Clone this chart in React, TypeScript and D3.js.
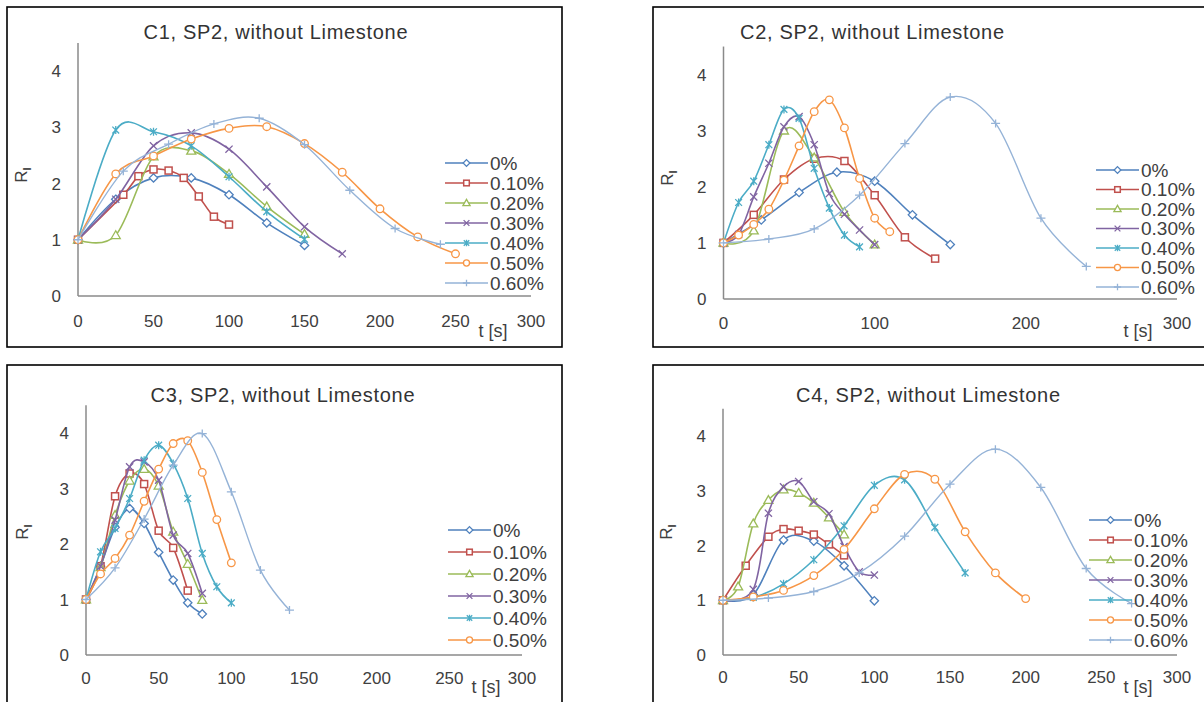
import React from "react";
import * as d3 from "d3";

type Pt = [number, number];

const SERIES = ["0%", "0.10%", "0.20%", "0.30%", "0.40%", "0.50%", "0.60%"];
const COLORS = ["#4F81BD", "#C0504D", "#9BBB59", "#8064A2", "#4BACC6", "#F79646", "#95B3D7"];
const MARKERS = ["diamond", "square", "triangle", "x", "star", "circle", "plus"];
const Y_TICKS = [0, 1, 2, 3, 4];
const X_TICKS_50 = [0, 50, 100, 150, 200, 250, 300];
const X_TICKS_100 = [0, 100, 200, 300];
const TITLES = [
  "C1, SP2, without Limestone",
  "C2, SP2, without Limestone",
  "C3, SP2, without Limestone",
  "C4, SP2, without Limestone",
];

// C1
const C1_0: Pt[] = [[0, 1], [25, 1.72], [50, 2.1], [75, 2.1], [100, 1.8], [125, 1.3], [150, 0.9]];
const C1_1: Pt[] = [[0, 1], [30, 1.8], [40, 2.13], [50, 2.25], [60, 2.23], [70, 2.1], [80, 1.77], [90, 1.41], [100, 1.27]];
const C1_2: Pt[] = [[0, 1], [25, 1.08], [50, 2.48], [75, 2.58], [100, 2.17], [125, 1.59], [150, 1.1]];
const C1_3: Pt[] = [[0, 1], [25, 1.72], [50, 2.67], [75, 2.9], [100, 2.61], [125, 1.94], [150, 1.23], [175, 0.75]];
const C1_4: Pt[] = [[0, 1], [25, 2.95], [50, 2.92], [75, 2.67], [100, 2.12], [125, 1.5], [150, 1.01]];
const C1_5: Pt[] = [[0, 1], [25, 2.17], [50, 2.49], [75, 2.79], [100, 2.98], [125, 3.01], [150, 2.71], [175, 2.2], [200, 1.55], [225, 1.05], [250, 0.75]];
const C1_6: Pt[] = [[0, 1], [30, 2.22], [60, 2.7], [90, 3.06], [120, 3.16], [150, 2.69], [180, 1.88], [210, 1.2], [240, 0.92]];

// C2
const C2_0: Pt[] = [[0, 1], [25, 1.41], [50, 1.9], [75, 2.26], [100, 2.1], [125, 1.5], [150, 0.97]];
const C2_1: Pt[] = [[0, 1], [20, 1.5], [40, 2.13], [60, 2.5], [80, 2.46], [100, 1.85], [120, 1.1], [140, 0.72]];
const C2_2: Pt[] = [[0, 1], [20, 1.22], [40, 3.0], [60, 2.52], [80, 1.55], [100, 0.97]];
const C2_3: Pt[] = [[0, 1], [10, 1.15], [20, 1.82], [30, 2.42], [40, 3.07], [50, 3.25], [60, 2.75], [70, 1.88], [80, 1.51], [90, 1.23], [100, 0.97]];
const C2_4: Pt[] = [[0, 1], [10, 1.72], [20, 2.1], [30, 2.75], [40, 3.38], [50, 3.22], [60, 2.33], [70, 1.62], [80, 1.14], [90, 0.93]];
const C2_5: Pt[] = [[0, 1], [10, 1.14], [20, 1.33], [30, 1.6], [40, 2.12], [50, 2.73], [60, 3.34], [70, 3.55], [80, 3.05], [90, 2.15], [100, 1.44], [110, 1.2]];
const C2_6: Pt[] = [[0, 1], [30, 1.07], [60, 1.25], [90, 1.85], [120, 2.77], [150, 3.6], [180, 3.13], [210, 1.44], [240, 0.58]];

// C3
const C3_0: Pt[] = [[0, 1], [10, 1.6], [20, 2.3], [30, 2.64], [40, 2.37], [50, 1.85], [60, 1.35], [70, 0.94], [80, 0.74]];
const C3_1: Pt[] = [[0, 1], [10, 1.6], [20, 2.86], [30, 3.27], [40, 3.08], [50, 2.24], [60, 1.93], [70, 1.16]];
const C3_2: Pt[] = [[0, 1], [10, 1.58], [20, 2.52], [30, 3.14], [40, 3.35], [50, 3.05], [60, 2.22], [70, 1.64], [80, 0.99]];
const C3_3: Pt[] = [[0, 1], [10, 1.6], [20, 2.43], [30, 3.39], [40, 3.48], [50, 3.15], [60, 2.16], [70, 1.83], [80, 1.11]];
const C3_4: Pt[] = [[0, 1], [10, 1.86], [20, 2.28], [30, 2.82], [40, 3.51], [50, 3.78], [60, 3.45], [70, 2.82], [80, 1.83], [90, 1.23], [100, 0.94]];
const C3_5: Pt[] = [[0, 1], [10, 1.46], [20, 1.74], [30, 2.16], [40, 2.77], [50, 3.35], [60, 3.81], [70, 3.86], [80, 3.29], [90, 2.44], [100, 1.66]];
const C3_6: Pt[] = [[0, 1], [20, 1.57], [40, 2.45], [60, 3.42], [80, 3.99], [100, 2.94], [120, 1.53], [140, 0.81]];

// C4
const C4_0: Pt[] = [[0, 1], [20, 1.1], [40, 2.1], [60, 2.08], [80, 1.63], [100, 0.99]];
const C4_1: Pt[] = [[0, 1], [15, 1.63], [30, 2.16], [40, 2.3], [50, 2.27], [60, 2.2], [70, 2.02], [80, 1.82]];
const C4_2: Pt[] = [[0, 1], [10, 1.25], [20, 2.4], [30, 2.83], [40, 3.02], [50, 2.96], [60, 2.78], [70, 2.51], [80, 2.2]];
const C4_3: Pt[] = [[0, 1], [20, 1.2], [30, 2.59], [40, 3.07], [50, 3.17], [60, 2.8], [70, 2.58], [80, 1.98], [90, 1.52], [100, 1.46]];
const C4_4: Pt[] = [[0, 1], [20, 1.05], [40, 1.3], [60, 1.74], [80, 2.36], [100, 3.1], [120, 3.2], [140, 2.33], [160, 1.5]];
const C4_5: Pt[] = [[0, 1], [20, 1.06], [40, 1.18], [60, 1.45], [80, 1.93], [100, 2.67], [120, 3.3], [140, 3.21], [160, 2.25], [180, 1.5], [200, 1.03]];
const C4_6: Pt[] = [[0, 1], [30, 1.04], [60, 1.16], [90, 1.5], [120, 2.17], [150, 3.12], [180, 3.76], [210, 3.06], [240, 1.58], [270, 0.94]];

const FONT = "'Liberation Sans', Arial, sans-serif";
const TEXT = "#404040";

function Marker({ type, x, y, color, k = 1 }: { type: string; x: number; y: number; color: string; k?: number }) {
  const sw = 1.3;
  const a = 4.2 * k;
  switch (type) {
    case "diamond":
      return <polygon points={`${x},${y - a} ${x + a},${y} ${x},${y + a} ${x - a},${y}`} fill="#fff" stroke={color} strokeWidth={sw} />;
    case "square":
      return <rect x={x - 3.5 * k} y={y - 3.5 * k} width={7 * k} height={7 * k} fill="#fff" stroke={color} strokeWidth={1.5} />;
    case "triangle":
      return <polygon points={`${x},${y - 4.5 * k} ${x + 4.5 * k},${y + 3.3 * k} ${x - 4.5 * k},${y + 3.3 * k}`} fill="#fff" stroke={color} strokeWidth={sw} />;
    case "x": {
      const b = 3.6 * k;
      return <path d={`M${x - b},${y - b}L${x + b},${y + b}M${x - b},${y + b}L${x + b},${y - b}`} stroke={color} strokeWidth={sw} fill="none" />;
    }
    case "star": {
      const b = 3.4 * k;
      return <path d={`M${x - b},${y - b}L${x + b},${y + b}M${x - b},${y + b}L${x + b},${y - b}M${x},${y - 4 * k}L${x},${y + 4 * k}`} stroke={color} strokeWidth={sw} fill="none" />;
    }
    case "circle":
      return <circle cx={x} cy={y} r={3.8 * k} fill="#fff" stroke={color} strokeWidth={sw} />;
    case "plus":
      return <path d={`M${x - 4.5 * k},${y}L${x + 4.5 * k},${y}M${x},${y - 4 * k}L${x},${y + 4 * k}`} stroke={color} strokeWidth={sw} fill="none" />;
  }
  return null;
}

type Cfg = {
  title: string;
  data: Pt[][];
  box: [number, number, number, number];
  x0: number;
  x1: number;
  y0: number;
  unit: number;
  xticks: number[];
  titleX: number;
  titleY: number;
  xLabDy: number;
  tLab: [number, number];
  rLab: [number, number];
  legX: number;
  legY: number;
  legStep: number;
  legN: number;
};

function Panel({ c }: { c: Cfg }) {
  const x = d3.scaleLinear().domain([0, 300]).range([c.x0, c.x1]);
  const y = d3.scaleLinear().domain([0, 4.5]).range([c.y0, c.y0 - 4.5 * c.unit]);
  const line = d3
    .line<Pt>()
    .x((d) => x(d[0]))
    .y((d) => y(d[1]))
    .curve(d3.curveCardinal.tension(0));
  return (
    <g fontFamily={FONT}>
      <rect x={c.box[0]} y={c.box[1]} width={c.box[2]} height={c.box[3]} fill="#fff" stroke="#000" strokeWidth={1.6} />
      <text x={c.titleX} y={c.titleY} textAnchor="middle" fontSize={20} fill="#333" textLength={264} lengthAdjust="spacing">
        {c.title}
      </text>
      {/* axes */}
      <line x1={x(0)} x2={x(0)} y1={y(0)} y2={y(4.5)} stroke="#8a8a8a" strokeWidth={1.5} />
      <line x1={x(0)} x2={x(300)} y1={y(0)} y2={y(0)} stroke="#8a8a8a" strokeWidth={1.5} />
      {Y_TICKS.map((t) => (
        <text key={"y" + t} x={x(0) - 17} y={y(t)} dy="0.36em" textAnchor="end" fontSize={17} fill={TEXT}>
          {t}
        </text>
      ))}
      {c.xticks.map((t) => (
        <text key={"x" + t} x={x(t)} y={y(0) + c.xLabDy} textAnchor="middle" fontSize={17} fill={TEXT}>
          {t}
        </text>
      ))}
      <text x={c.tLab[0]} y={c.tLab[1]} dy="0.36em" textAnchor="middle" fontSize={18} fill={TEXT}>
        t [s]
      </text>
      <text transform={`translate(${c.rLab[0]},${c.rLab[1]}) rotate(-90)`} dy="0.36em" textAnchor="middle" fontSize={17} fill={TEXT}>
        R
        <tspan fontSize={11} fontWeight="bold" dy="4">
          I
        </tspan>
      </text>
      {/* series */}
      {c.data.map((s, i) => (
        <g key={"s" + i}>
          <path d={line(s) || ""} fill="none" stroke={COLORS[i]} strokeWidth={i === 6 ? 1.4 : 1.6} />
          {s.map((p, j) => (
            <Marker key={j} type={MARKERS[i]} x={x(p[0])} y={y(p[1])} color={COLORS[i]} />
          ))}
        </g>
      ))}
      {/* legend */}
      {SERIES.slice(0, c.legN).map((name, i) => {
        const ly = c.legY + i * c.legStep;
        return (
          <g key={"l" + i}>
            <line x1={c.legX} x2={c.legX + 43} y1={ly} y2={ly} stroke={COLORS[i]} strokeWidth={i === 6 ? 1.4 : 1.6} />
            <Marker type={MARKERS[i]} x={c.legX + 21.5} y={ly} color={COLORS[i]} k={0.8} />
            <text x={c.legX + 45} y={ly} dy="0.36em" fontSize={19} fill={TEXT}>
              {name}
            </text>
          </g>
        );
      })}
    </g>
  );
}

const PANELS: Cfg[] = [
  {
    title: TITLES[0],
    data: [C1_0, C1_1, C1_2, C1_3, C1_4, C1_5, C1_6],
    box: [7, 7, 555, 340],
    x0: 78, x1: 531, y0: 296, unit: 56.25,
    xticks: X_TICKS_50,
    titleX: 275.5, titleY: 39, xLabDy: 31,
    tLab: [493, 331], rLab: [21, 175],
    legX: 445, legY: 163, legStep: 20, legN: 7,
  },
  {
    title: TITLES[1],
    data: [C2_0, C2_1, C2_2, C2_3, C2_4, C2_5, C2_6],
    box: [653, 7, 570, 340],
    x0: 723.5, x1: 1177, y0: 299, unit: 56.1,
    xticks: X_TICKS_100,
    titleX: 872, titleY: 39, xLabDy: 30,
    tLab: [1138, 331], rLab: [667, 178],
    legX: 1096, legY: 170, legStep: 19.5, legN: 7,
  },
  {
    title: TITLES[2],
    data: [C3_0, C3_1, C3_2, C3_3, C3_4, C3_5, C3_6],
    box: [7, 365, 555, 360],
    x0: 86, x1: 522, y0: 655, unit: 55.5,
    xticks: X_TICKS_50,
    titleX: 282.5, titleY: 402, xLabDy: 29,
    tLab: [486, 687], rLab: [22, 532],
    legX: 448, legY: 530, legStep: 22, legN: 6,
  },
  {
    title: TITLES[3],
    data: [C4_0, C4_1, C4_2, C4_3, C4_4, C4_5, C4_6],
    box: [653, 365, 570, 360],
    x0: 723, x1: 1177, y0: 655, unit: 54.75,
    xticks: X_TICKS_50,
    titleX: 928, titleY: 402, xLabDy: 28,
    tLab: [1138, 687], rLab: [666, 532],
    legX: 1089, legY: 520, legStep: 20, legN: 7,
  },
];

export default function App() {
  return (
    <svg
      width={1204}
      height={702}
      style={{ position: "absolute", left: 0, top: 0, background: "#fff" }}
    >
      <rect x={0} y={0} width={1204} height={702} fill="#fff" />
      {PANELS.map((p, i) => (
        <Panel key={i} c={p} />
      ))}
    </svg>
  );
}
